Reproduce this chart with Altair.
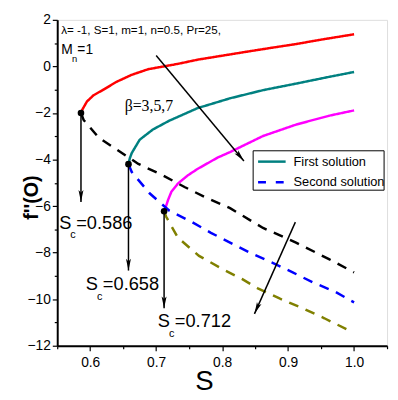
import altair as alt
import pandas as pd

SANS = "Liberation Sans, Arial, sans-serif"

# ---- data ----
red_S = [0.586, 0.588, 0.595, 0.605, 0.62, 0.64, 0.663, 0.688, 0.733, 0.763, 0.8, 0.837, 0.875, 0.912, 0.95, 1.0]
red_v = [-2.0, -1.86, -1.51, -1.24, -1.0, -0.66, -0.36, -0.12, 0.11, 0.29, 0.46, 0.63, 0.80, 0.96, 1.15, 1.38]

teal_S = [0.658, 0.66, 0.663, 0.675, 0.695, 0.72, 0.763, 0.812, 0.862, 0.912, 0.962, 1.0]
teal_v = [-4.2, -3.95, -3.72, -3.15, -2.71, -2.33, -1.79, -1.37, -1.02, -0.74, -0.45, -0.24]

mag_S = [0.712, 0.715, 0.718, 0.723, 0.733, 0.748, 0.763, 0.793, 0.812, 0.862, 0.912, 0.962, 1.0]
mag_v = [-6.22, -6.0, -5.74, -5.39, -5.03, -4.68, -4.40, -3.92, -3.68, -2.99, -2.5, -2.12, -1.89]

blk_S = [0.586, 0.59, 0.613, 0.673, 0.71, 0.743, 0.773, 0.812, 0.862, 0.912, 0.962, 1.0]
blk_v = [-2.0, -2.3, -3.06, -4.19, -4.68, -5.18, -5.6, -6.09, -6.94, -7.57, -8.28, -8.85]

blu_S = [0.658, 0.663, 0.69, 0.72, 0.755, 0.783, 0.812, 0.842, 0.875, 0.907, 0.937, 0.972, 1.0]
blu_v = [-4.2, -4.54, -5.45, -6.2, -6.7, -7.15, -7.57, -8.0, -8.42, -8.85, -9.27, -9.69, -10.14]

olv_S = [0.712, 0.715, 0.733, 0.765, 0.8, 0.83, 0.855, 0.887, 0.922, 0.955, 0.99]
olv_v = [-6.22, -6.45, -7.36, -8.14, -8.7, -9.13, -9.55, -9.97, -10.39, -10.82, -11.31]

crit_S = [0.586, 0.658, 0.712]
crit_v = [-2.0, -4.2, -6.22]
arrow_end_v = [-5.82, -8.77, -10.39]

x_ticks = [0.6, 0.7, 0.8, 0.9, 1.0]
x_minor = [0.55, 0.65, 0.75, 0.85, 0.95, 1.05]
y_ticks = [-12, -10, -8, -6, -4, -2, 0, 2]
y_minor = [-11, -9, -7, -5, -3, -1, 1]

curves = []
for name, sol, S, v in [
    ("b3_first", "First", red_S, red_v),
    ("b5_first", "First", teal_S, teal_v),
    ("b7_first", "First", mag_S, mag_v),
    ("b3_second", "Second", blk_S, blk_v),
    ("b5_second", "Second", blu_S, blu_v),
    ("b7_second", "Second", olv_S, olv_v),
]:
    for s, val in zip(S, v):
        curves.append({"S": s, "v": val, "curve": name, "sol": sol})
df = pd.DataFrame(curves)

xscale = alt.Scale(domain=[0.55, 1.05], nice=False, zero=False)
yscale = alt.Scale(domain=[-12, 2], nice=False, zero=False)

X = alt.X("S:Q", scale=xscale,
          axis=alt.Axis(values=x_ticks, format=".1f", title="S", tickSize=5, tickWidth=1.2,
                        labelFont=SANS, labelFontSize=14, labelColor="black", labelPadding=5,
                        titleFont=SANS, titleFontSize=28, titleFontWeight="normal",
                        titleColor="black", titleX=149, titleY=44, titleBaseline="alphabetic",
                        domainColor="black", domainWidth=2, tickColor="black", grid=False))
Y = alt.Y("v:Q", scale=yscale,
          axis=alt.Axis(values=y_ticks, title="f''(O)", tickSize=5, tickWidth=1.2,
                        labelFont=SANS, labelFontSize=14, labelColor="black", labelPadding=2,
                        titleFont=SANS, titleFontSize=20,
                        titleFontWeight="bold", titleColor="black", titleAngle=270,
                        titleX=-26, titleY=180, titleAlign="center", titleBaseline="middle",
                        domainColor="black", domainWidth=2, tickColor="black", grid=False))

XN = alt.X("S:Q", axis=None)
YN = alt.Y("v:Q", axis=None)

lines = alt.Chart(df).mark_line(strokeWidth=2.5).encode(
    x=X, y=Y,
    color=alt.Color("curve:N", legend=None, scale=alt.Scale(
        domain=["b3_first", "b5_first", "b7_first", "b3_second", "b5_second", "b7_second"],
        range=["#ff0000", "#008080", "#ff00ff", "#000000", "#0000ff", "#808000"])),
    strokeDash=alt.StrokeDash("sol:N", legend=None, scale=alt.Scale(
        domain=["First", "Second"], range=[[1, 0], [10, 8]])),
    detail="curve:N",
)

# minor ticks as separate axes on the shared scales
minor_df = pd.DataFrame({"S": [0.55], "v": [-12]})
minor = alt.Chart(minor_df).mark_point(opacity=0).encode(
    x=alt.X("S:Q", axis=alt.Axis(values=x_minor, labels=False, title=None, tickSize=3, tickWidth=1.2,
                                 tickColor="black", domain=False, grid=False, orient="bottom")),
    y=alt.Y("v:Q", axis=alt.Axis(values=y_minor, labels=False, title=None, tickSize=3, tickWidth=1.2,
                                 tickColor="black", domain=False, grid=False, orient="left")),
)

# vertical arrows from critical points
varr = pd.DataFrame({"S": crit_S, "v": crit_v, "v2": arrow_end_v})
vlines = alt.Chart(varr).mark_rule(color="black", strokeWidth=1.5).encode(
    x=XN, y=YN, y2="v2:Q")

# diagonal arrows
diag_x0 = [0.700, 0.911]
diag_y0 = [0.47, -6.69]
diag_x1 = [0.833, 0.849]
diag_y1 = [-4.06, -10.63]
diag_ang = [320, 24]
dl = []
for i in range(2):
    dl.append({"S": diag_x0[i], "v": diag_y0[i], "id": i})
    dl.append({"S": diag_x1[i], "v": diag_y1[i], "id": i})
dlines = alt.Chart(pd.DataFrame(dl)).mark_line(color="black", strokeWidth=1.5).encode(
    x=XN, y=YN, detail="id:N")

heads = pd.DataFrame({
    "S": crit_S + diag_x1,
    "v": arrow_end_v + diag_y1,
    "ang": [0, 0, 0] + diag_ang,
})
ARROW = "M0,0 L-0.42,-2 L0,-1.55 L0.42,-2 Z"
arrowheads = alt.Chart(heads).mark_point(shape=ARROW, filled=True, color="black", opacity=1,
                                          size=144, strokeWidth=0).encode(
    x=XN, y=YN, angle=alt.Angle("ang:Q", scale=None))

dots = alt.Chart(pd.DataFrame({"S": crit_S, "v": crit_v})).mark_circle(
    color="black", size=45, opacity=1).encode(x=XN, y=YN)

# annotation texts
def txt(S, v, s, size, font=SANS, align="left"):
    return alt.Chart(pd.DataFrame({"S": [S], "v": [v], "t": [s]})).mark_text(
        align=align, baseline="middle", fontSize=size, font=font, color="black").encode(
        x=XN, y=YN, text="t:N")

params_text = "λ= -1, S=1, m=1, n=0.5, Pr=25,"
texts = [
    txt(0.556, 1.58, params_text, 11.8),
    txt(0.556, 0.69, "M", 14),
    txt(0.5725, 0.31, "n", 9.5),
    txt(0.5805, 0.69, "=1", 14),
    txt(0.689, -1.72, "β=3,5,7", 16, font="Liberation Serif, Times New Roman, serif", align="center"),
]
sc_S = [0.553, 0.5934, 0.7025]
sc_v = [-6.71, -9.34, -10.94]
sc_lbl = ["=0.586", "=0.658", "=0.712"]
for s, v, lbl in zip(sc_S, sc_v, sc_lbl):
    texts.append(txt(s, v, "S", 18.5))
    texts.append(txt(s + 0.0168, v - 0.55, "c", 11))
    texts.append(txt(s + 0.0258, v, lbl, 18.5))

# legend (drawn by hand)
leg_box = alt.Chart(minor_df).mark_rect(fill="white", stroke="black", strokeWidth=1).encode(
    x=alt.value(199), x2=alt.value(332), y=alt.value(133), y2=alt.value(173))
leg_l1 = alt.Chart(minor_df).mark_rule(color="#008080", strokeWidth=2.5).encode(
    x=alt.value(204), x2=alt.value(232), y=alt.value(144))
leg_l2 = alt.Chart(minor_df).mark_rule(color="#0000ff", strokeWidth=2.5, strokeDash=[8, 10]).encode(
    x=alt.value(204), x2=alt.value(232), y=alt.value(165))
leg_t1 = alt.Chart(minor_df).mark_text(align="left", baseline="middle", fontSize=13, font=SANS,
                                       color="black").encode(
    x=alt.value(240), y=alt.value(144), text=alt.value("First solution"))
leg_t2 = alt.Chart(minor_df).mark_text(align="left", baseline="middle", fontSize=13, font=SANS,
                                       color="black").encode(
    x=alt.value(240), y=alt.value(165), text=alt.value("Second solution"))

chart = alt.layer(
    lines, minor, vlines, dlines, arrowheads, dots, *texts,
    leg_box, leg_l1, leg_l2, leg_t1, leg_t2,
).resolve_axis(x="independent", y="independent").properties(
    width=335, height=331,
    autosize=alt.AutoSizeParams(type="none"),
    padding={"left": 50, "top": 9, "right": 3, "bottom": 47},
).configure_view(stroke="black", strokeWidth=1.5).configure(background="white")

chart.save("out.html", embed_options={"renderer": "svg", "actions": False})
